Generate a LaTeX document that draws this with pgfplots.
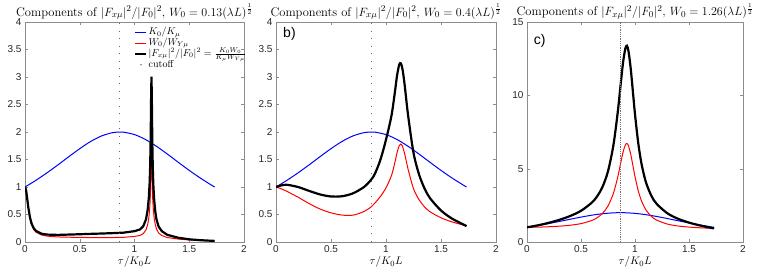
\documentclass[border=0pt]{standalone}
\usepackage{pgfplots}
\pgfplotsset{compat=1.18}
\usepackage{pgfplotstable}
\usepackage{fontspec}
\newfontfamily\helv{Liberation Sans}

\pgfplotstableread{
x b
0 1.000
0.1 1.122
0.2 1.257
0.3 1.401
0.4 1.551
0.5 1.697
0.6 1.828
0.7 1.929
0.8 1.988
0.866 2.000
0.9 1.997
1.0 1.953
1.1 1.864
1.2 1.741
1.3 1.599
1.4 1.449
1.5 1.302
1.6 1.164
1.7 1.038
1.732 1.000
}\bluetab

\pgfplotstableread{
x r k
0 1.000 1.000
0.01 0.931 0.942
0.02 0.774 0.792
0.03 0.610 0.632
0.045 0.430 0.453
0.06 0.314 0.336
0.08 0.228 0.250
0.1 0.180 0.202
0.15 0.128 0.151
0.2 0.107 0.135
0.3 0.092 0.129
0.4 0.087 0.135
0.5 0.083 0.141
0.6 0.081 0.148
0.7 0.080 0.154
0.8 0.081 0.161
0.9 0.085 0.170
1.0 0.101 0.197
1.05 0.119 0.228
1.08 0.152 0.287
1.105 0.221 0.411
1.12 0.315 0.580
1.13 0.429 0.785
1.138 0.586 1.066
1.143 0.757 1.373
1.147 0.994 1.798
1.150 1.273 2.299
1.152 1.489 2.685
1.155 1.670 3.006
1.158 1.489 2.674
1.160 1.273 2.282
1.163 0.994 1.778
1.167 0.757 1.350
1.172 0.586 1.042
1.18 0.429 0.758
1.19 0.315 0.553
1.2 0.240 0.418
1.22 0.164 0.281
1.25 0.117 0.196
1.3 0.081 0.130
1.4 0.053 0.077
1.5 0.038 0.049
1.6 0.028 0.033
1.7 0.022 0.023
1.732 0.020 0.020
}\panelA

\pgfplotstableread{
x r k
0 1.000 1.000
0.05 0.965 1.030
0.1 0.920 1.040
0.2 0.815 1.000
0.3 0.700 0.930
0.4 0.600 0.865
0.5 0.530 0.828
0.6 0.490 0.832
0.7 0.488 0.885
0.8 0.555 1.000
0.866 0.640 1.135
0.9 0.710 1.245
0.95 0.830 1.500
1.0 0.985 1.860
1.05 1.210 2.300
1.08 1.440 2.714
1.1 1.620 3.020
1.12 1.750 3.224
1.135 1.780 3.247
1.15 1.740 3.142
1.17 1.600 2.850
1.2 1.330 2.316
1.25 0.970 1.621
1.3 0.770 1.231
1.35 0.640 0.975
1.4 0.550 0.797
1.5 0.440 0.573
1.6 0.365 0.425
1.7 0.310 0.322
1.732 0.290 0.290
}\panelB

\pgfplotstableread{
x r k
0 1.000 1.000
0.1 1.012 1.136
0.2 1.039 1.306
0.3 1.079 1.512
0.4 1.143 1.773
0.5 1.254 2.128
0.6 1.468 2.684
0.65 1.658 3.122
0.7 1.957 3.775
0.75 2.455 4.824
0.8 3.320 6.600
0.84 4.424 8.839
0.87 5.471 10.940
0.89 6.140 12.270
0.91 6.604 13.170
0.925 6.720 13.380
0.94 6.550 13.005
0.96 5.997 11.854
0.98 5.233 10.288
1.0 4.461 8.712
1.03 3.497 6.753
1.06 2.806 5.343
1.1 2.203 4.106
1.15 1.757 3.173
1.2 1.496 2.605
1.3 1.222 1.954
1.4 1.090 1.579
1.5 1.016 1.323
1.6 0.970 1.129
1.7 0.938 0.974
1.732 0.929 0.929
}\panelC

\pgfplotsset{
  panel/.style={
    scale only axis, height=220pt,
    xmin=0, xmax=2, xtick={0,0.5,1,1.5,2},
    axis line style={black!45}, tick style={black!45},
    tick align=inside, xtick pos=both, ytick pos=both,
    major tick length=3pt,
    ticklabel style={font=\helv\fontsize{10}{10}\selectfont, text=black!85},
    /pgf/number format/assume math mode=true,
    xlabel={$\tau/K_0L$},
    xlabel style={font=\fontsize{11}{12}\selectfont, yshift=3pt},
    title style={font=\fontsize{12.5}{14}\selectfont, anchor=base, yshift=0pt},
    clip=true,
  },
}

\begin{document}
\begin{tikzpicture}
\useasboundingbox (0,0) rectangle (758pt,273pt);

% Panel a
\begin{axis}[panel, at={(25pt,31pt)}, anchor=south west, width=219pt,
  ymin=0, ymax=4, ytick={0,0.5,...,4},
  title={Components of $|F_{x\mu}|^2/|F_0|^2$, $W_0 = 0.13(\lambda L)^{\frac{1}{2}}$},
  legend style={draw=none, fill=none, at={(axis description cs:0.498,0.979)}, anchor=north west,
    inner sep=0pt, font=\fontsize{10}{10}\selectfont,
    nodes={text height=6.5pt, text depth=2pt, inner sep=1.2pt}, row sep=0pt},
  legend cell align=left,
]
\addplot[blue, line width=1pt, smooth,
  legend image code/.code={\draw[blue, line width=1pt] (0pt,0pt) -- (11pt,0pt);}]
  table[x=x, y=b] {\bluetab};
\addlegendentry{$K_0/K_\mu$}
\addplot[red, line width=1pt,
  legend image code/.code={\draw[red, line width=1pt] (0pt,0pt) -- (11pt,0pt);}]
  table[x=x, y=r] {\panelA};
\addlegendentry{$W_0/W_{Y\mu}$}
\addplot[black, line width=2.2pt,
  legend image code/.code={\draw[black, line width=2.2pt] (0pt,0pt) -- (11pt,0pt);}]
  table[x=x, y=k] {\panelA};
\addlegendentry{$|F_{x\mu}|^2/|F_0|^2 = \frac{K_0W_0}{K_\mu W_{Y\mu}}$}
\addplot[black!60, line width=1pt, dash pattern=on 1pt off 6.5pt,
  legend image code/.code={\fill[black!60] (5.5pt,0pt) circle (0.6pt);}]
  coordinates {(0.866,0) (0.866,4)};
\addlegendentry{cutoff}
\end{axis}

% Panel b
\begin{axis}[panel, at={(276pt,31pt)}, anchor=south west, width=220pt,
  ymin=0, ymax=4, ytick={0,0.5,...,4},
  title={Components of $|F_{x\mu}|^2/|F_0|^2$, $W_0 = 0.4(\lambda L)^{\frac{1}{2}}$},
]
\addplot[blue, line width=1pt, smooth] table[x=x, y=b] {\bluetab};
\addplot[red, line width=1pt, smooth] table[x=x, y=r] {\panelB};
\addplot[black, line width=2.2pt, smooth] table[x=x, y=k] {\panelB};
\addplot[black!60, line width=1pt, dash pattern=on 1pt off 6.5pt]
  coordinates {(0.866,0) (0.866,4)};
\node[anchor=north west, font=\helv\fontsize{14}{14}\selectfont, inner sep=0pt] at (rel axis cs:0.032,0.975) {b)};
\end{axis}

% Panel c
\begin{axis}[panel, at={(527pt,31pt)}, anchor=south west, width=216pt,
  ymin=0, ymax=15, ytick={0,5,10,15},
  title={Components of $|F_{x\mu}|^2/|F_0|^2$, $W_0 = 1.26(\lambda L)^{\frac{1}{2}}$},
]
\addplot[blue, line width=1pt, smooth] table[x=x, y=b] {\bluetab};
\addplot[red, line width=1pt, smooth] table[x=x, y=r] {\panelC};
\addplot[black, line width=2.2pt, smooth] table[x=x, y=k] {\panelC};
\addplot[black!55, line width=1pt, dash pattern=on 1pt off 0.8pt]
  coordinates {(0.866,0) (0.866,15)};
\node[anchor=north west, font=\helv\fontsize{14}{14}\selectfont, inner sep=0pt] at (rel axis cs:0.031,0.945) {c)};
\end{axis}
\end{tikzpicture}
\end{document}
